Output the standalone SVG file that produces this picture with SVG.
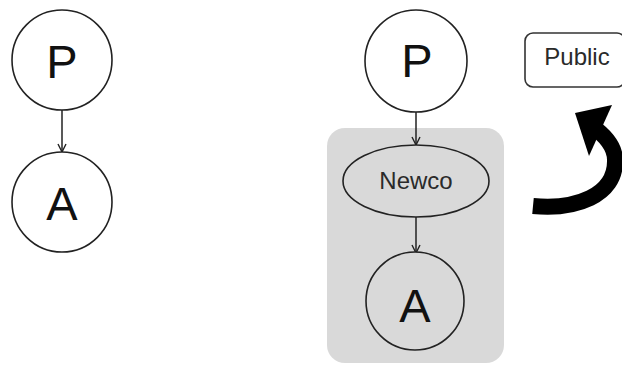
<svg xmlns="http://www.w3.org/2000/svg" width="622" height="365" viewBox="0 0 622 365">
  <defs>
    <marker id="vhead" viewBox="0 0 10 10" refX="9" refY="5" markerWidth="10" markerHeight="10" markerUnits="userSpaceOnUse" orient="auto">
      <path d="M1,1 L9,5 L1,9" fill="none" stroke="#222" stroke-width="1.4"/>
    </marker>
  </defs>
  <style>
    .node { fill: #ffffff; stroke: #222; stroke-width: 1.6; }
    .big { font-family: "Liberation Sans", Arial, sans-serif; font-size: 47px; fill: #111; text-anchor: middle; }
    .lbl { font-family: "Liberation Sans", Arial, sans-serif; font-size: 24px; fill: #2a2a2a; text-anchor: middle; }
    .edge { stroke: #222; stroke-width: 1.5; fill: none; marker-end: url(#vhead); }
  </style>

  <rect id="group-box" x="327" y="128" width="177" height="235" rx="18" fill="#d9d9d9"/>

  <g id="connectors">
    <line class="edge" x1="62" y1="110" x2="62" y2="152"/>
    <line class="edge" x1="416" y1="112" x2="416" y2="145"/>
    <line class="edge" x1="416" y1="217" x2="416" y2="253"/>
  </g>

  <g id="p-left">
    <circle class="node" cx="62" cy="60" r="50"/>
    <text class="big" x="62" y="78">P</text>
  </g>
  <g id="a-left">
    <circle class="node" cx="62" cy="202" r="50"/>
    <text class="big" x="62" y="220">A</text>
  </g>

  <g id="p-right">
    <circle class="node" cx="416" cy="61" r="51"/>
    <text class="big" x="417" y="77">P</text>
  </g>
  <g id="newco">
    <ellipse class="node" cx="416" cy="181" rx="73" ry="36" style="fill:#d9d9d9"/>
    <text class="lbl" x="416" y="189">Newco</text>
  </g>
  <g id="a-right">
    <circle class="node" cx="415" cy="301" r="49" style="fill:#d9d9d9"/>
    <text class="big" x="415" y="322">A</text>
  </g>

  <g id="public">
    <rect x="525" y="33" width="100" height="54" rx="8" fill="#ffffff" stroke="#333" stroke-width="1.6"/>
    <text class="lbl" x="577" y="65" fill="#333">Public</text>
  </g>

  <g id="curl-arrow">
    <path d="M533,206 C575,210 616,196 615,160 C615,147 606,136 592,126" fill="none" stroke="#000" stroke-width="16"/>
    <polygon points="575,113 612,105 589,156" fill="#000"/>
  </g>
</svg>
